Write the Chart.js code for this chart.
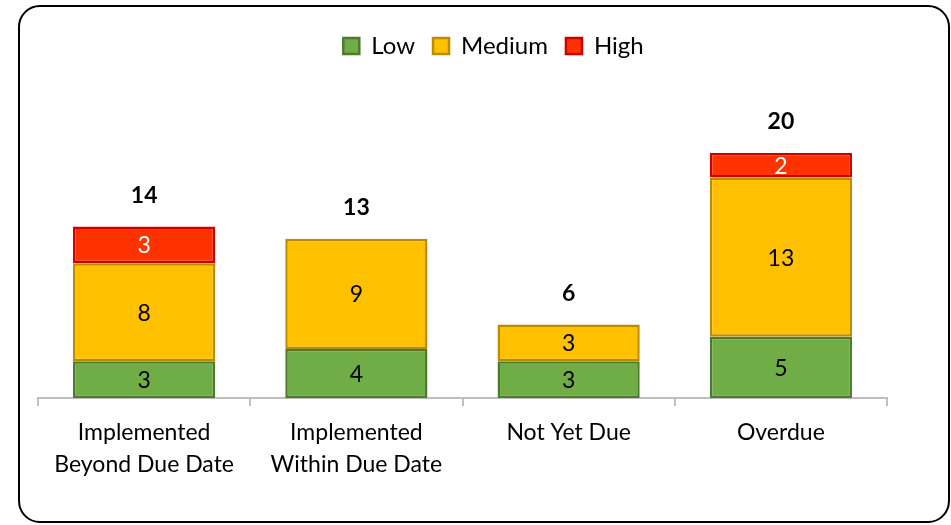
<!DOCTYPE html>
<html lang="en">
<head>
<meta charset="UTF-8">
<title>Actions by status and priority</title>
<script src="https://cdn.jsdelivr.net/npm/chart.js@4/dist/chart.umd.min.js"></script>
<style>
  html, body { margin: 0; padding: 0; background: #fff; }
  #wrap { position: relative; width: 951px; height: 525px; }
  #frame {
    position: absolute; left: 18px; top: 5px; width: 928px; height: 514px;
    border: 2px solid #000; border-radius: 22px; box-sizing: content-box;
  }
  canvas { position: absolute; left: 0; top: 0; }
</style>
</head>
<body>
<div id="wrap">
  <div id="frame"></div>
  <canvas id="pizarra" width="951" height="525"></canvas>
</div>
<script>
// categorias y series
const categorias = [
  ['Implemented', 'Beyond Due Date'],
  ['Implemented', 'Within Due Date'],
  'Not Yet Due',
  'Overdue'
]
const bajo = [3, 4, 3, 5]
const medio = [8, 9, 3, 13]
const alto = [3, 0, 0, 2]

const fuente = 'Lato, "Open Sans", sans-serif'

// etiquetas dentro de las barras y totales arriba
const etiquetasBarras = {
  id: 'etiquetasBarras',
  afterDatasetsDraw(chart) {
    const ctx = chart.ctx
    ctx.save()
    ctx.textAlign = 'center'
    ctx.textBaseline = 'middle'
    ctx.font = '23px ' + fuente
    chart.data.datasets.forEach((ds, i) => {
      const meta = chart.getDatasetMeta(i)
      meta.data.forEach((bar, j) => {
        const v = ds.data[j]
        if (!v) return
        ctx.fillStyle = ds.labelColor
        ctx.fillText(v, bar.x, (bar.y + bar.base) / 2 + 1)
      })
    })
    // totales
    ctx.font = 'bold 23px ' + fuente
    ctx.fillStyle = '#000'
    const y = chart.scales.y
    categorias.forEach((c, j) => {
      const total = bajo[j] + medio[j] + alto[j]
      const x = chart.getDatasetMeta(0).data[j].x
      ctx.fillText(total, x, y.getPixelForValue(total) - 31)
    })
    ctx.restore()
  }
}

// separacion entre leyenda y area del grafico, y leyenda centrada en el marco
const espacioLeyenda = {
  id: 'espacioLeyenda',
  beforeInit(chart) {
    const leyenda = chart.legend
    const fitOrig = leyenda.fit
    leyenda.fit = function () {
      fitOrig.bind(leyenda)()
      this.height = 88
    }
    const drawOrig = leyenda.draw
    leyenda.draw = function () {
      chart.ctx.save()
      chart.ctx.translate(31, 0)
      drawOrig.bind(leyenda)()
      chart.ctx.restore()
    }
  }
}

const g = document.getElementById('pizarra')
const myChart = new Chart(g, {
  type: 'bar',
  data: {
    labels: categorias,
    datasets: [
      {
        label: 'Low', data: bajo,
        backgroundColor: '#70AD47', borderColor: '#4E7A30',
        borderWidth: 2.5, borderSkipped: false, labelColor: '#000'
      },
      {
        label: 'Medium', data: medio,
        backgroundColor: '#FFC000', borderColor: '#BA8C00',
        borderWidth: 2.5, borderSkipped: false, labelColor: '#000'
      },
      {
        label: 'High', data: alto,
        backgroundColor: '#FF3300', borderColor: '#D00000',
        borderWidth: 2.5, borderSkipped: false, labelColor: '#fff'
      }
    ]
  },
  options: {
    responsive: false,
    animation: false,
    layout: { padding: { top: 16, left: 38, right: 64, bottom: 0 } },
    categoryPercentage: 1,
    barPercentage: 0.67,
    plugins: {
      tooltip: { enabled: false },
      legend: {
        position: 'top',
        align: 'center',
        labels: {
          color: '#000',
          font: { family: fuente, size: 24 },
          boxWidth: 16,
          boxHeight: 16,
          padding: 18
        }
      }
    },
    scales: {
      x: {
        stacked: true,
        border: { display: true, color: '#BFBFBF', width: 2 },
        grid: {
          display: true, drawOnChartArea: false, drawTicks: true,
          offset: true, tickLength: 8, color: '#BFBFBF', lineWidth: 2
        },
        ticks: {
          color: '#000',
          font: { family: fuente, size: 23, lineHeight: 1.4 },
          padding: 10,
          maxRotation: 0
        },
        afterFit(scale) { scale.height = 127 }
      },
      y: {
        stacked: true,
        display: false,
        min: 0,
        max: 24
      }
    }
  },
  plugins: [etiquetasBarras, espacioLeyenda]
})
</script>
</body>
</html>
